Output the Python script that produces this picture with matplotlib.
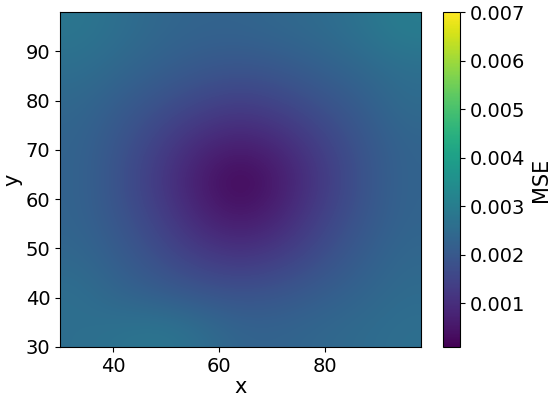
import numpy as np
import matplotlib

matplotlib.use("Agg")
import matplotlib.pyplot as plt

# grid nodes (data units)
x_nodes = [30, 38.5, 47, 55.5, 64, 72.5, 81, 89.5, 98]
y_nodes = [30, 38.5, 47, 55.5, 64, 72.5, 81, 89.5, 98]

# MSE estimates at the nodes, rows from bottom (y=30) to top (y=98)
mse_y30 = [0.0026, 0.0027, 0.0028, 0.0026, 0.0023, 0.0023, 0.0024, 0.0025, 0.0026]
mse_y38 = [0.0026, 0.0023, 0.0021, 0.0019, 0.0018, 0.0019, 0.0021, 0.0023, 0.0025]
mse_y47 = [0.0024, 0.0021, 0.0017, 0.0013, 0.0011, 0.0013, 0.0017, 0.0021, 0.0024]
mse_y55 = [0.0023, 0.0019, 0.0014, 0.0008, 0.0005, 0.0008, 0.0014, 0.0019, 0.0023]
mse_y64 = [0.0023, 0.0018, 0.0012, 0.0006, 0.0001, 0.0006, 0.0012, 0.0018, 0.0023]
mse_y72 = [0.0023, 0.0019, 0.0014, 0.0009, 0.0007, 0.0009, 0.0014, 0.0019, 0.0023]
mse_y81 = [0.0024, 0.0021, 0.0018, 0.0015, 0.0013, 0.0015, 0.0018, 0.0021, 0.0025]
mse_y89 = [0.0026, 0.0024, 0.0022, 0.0020, 0.0019, 0.0020, 0.0022, 0.0024, 0.0026]
mse_y98 = [0.0028, 0.0026, 0.0024, 0.0023, 0.0023, 0.0024, 0.0025, 0.0027, 0.0030]

cbar_ticks = [0.001, 0.002, 0.003, 0.004, 0.005, 0.006, 0.007]

mse = np.array([mse_y30, mse_y38, mse_y47, mse_y55, mse_y64,
                mse_y72, mse_y81, mse_y89, mse_y98])

fig = plt.figure(figsize=(5.5, 4), dpi=100)
ax = fig.add_axes([0.109, 0.1325, 0.656, 0.8375])
cax = fig.add_axes([0.805, 0.1325, 0.031, 0.8375])

im = ax.imshow(mse, origin="lower", cmap="viridis", aspect="auto",
               extent=[x_nodes[0], x_nodes[-1], y_nodes[0], y_nodes[-1]],
               interpolation="bicubic", vmin=mse.min(), vmax=0.007)
ax.set_xticks([40, 60, 80])
ax.set_yticks([30, 40, 50, 60, 70, 80, 90])
ax.tick_params(labelsize=14)
ax.set_xlabel("x", fontsize=15, labelpad=1)
ax.set_ylabel("y", fontsize=15, labelpad=2)

cb = fig.colorbar(im, cax=cax, ticks=cbar_ticks)
cb.ax.tick_params(labelsize=14)
cb.set_label("MSE", fontsize=15)

fig.savefig("out.png", dpi=100)
